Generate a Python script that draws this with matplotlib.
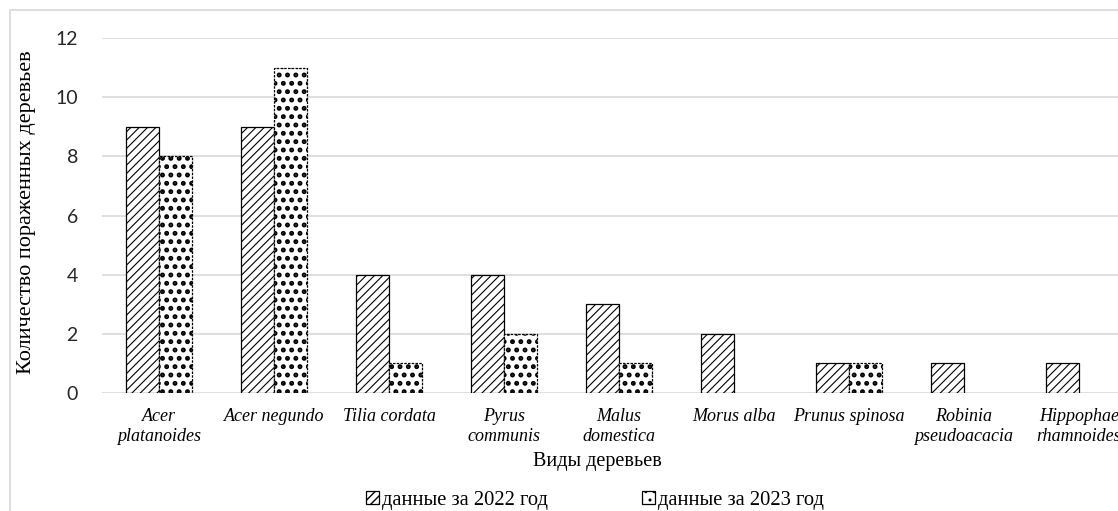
import matplotlib
matplotlib.use("Agg")
import matplotlib.pyplot as plt
import matplotlib.patches as mpatches
import numpy as np

categories = ["Acer\nplatanoides", "Acer negundo", "Tilia cordata", "Pyrus\ncommunis",
              "Malus\ndomestica", "Morus alba", "Prunus spinosa", "Robinia\npseudoacacia",
              "Hippophae\nrhamnoides"]
values_2022 = [9, 9, 4, 4, 3, 2, 1, 1, 1]
values_2023 = [8, 11, 1, 2, 1, 0, 1, 0, 0]
series_labels = ["данные за 2022 год", "данные за 2023 год"]
yticks = [0, 2, 4, 6, 8, 10, 12]

W, H = 1118, 511
fig = plt.figure(figsize=(W / 100, H / 100), dpi=100)
ax = fig.add_axes([101.5 / W, 1 - 393 / H, 1035 / W, 355 / H])


def set_hlw(artists, lw):
    for a in artists:
        if hasattr(a, "set_hatch_linewidth"):
            a.set_hatch_linewidth(lw)


x = np.arange(len(categories))
bw = 0.287
with plt.rc_context({'hatch.linewidth': 0.8}):
    b1 = ax.bar(x - bw / 2, values_2022, bw, facecolor='white', edgecolor='black',
                hatch='////', linewidth=0.9, zorder=3)
    h1 = mpatches.Patch(facecolor='white', edgecolor='black', hatch='////', linewidth=0.9)
set_hlw(list(b1) + [h1], 0.8)

vals23 = np.array(values_2023, dtype=float)
mask = vals23 > 0
with plt.rc_context({'hatch.linewidth': 2.3}):
    b2 = ax.bar(x[mask] + bw / 2, vals23[mask], bw, facecolor='white', edgecolor='black',
                hatch='..', linewidth=0.9, linestyle=(0, (2, 1)), zorder=3)
    h2 = mpatches.Patch(facecolor='white', edgecolor='black', hatch='..', linewidth=0.9)
set_hlw(list(b2) + [h2], 2.3)

ax.set_xlim(-0.5, len(categories) - 0.5)
ax.set_ylim(0, 12)
ax.set_yticks(yticks)
ax.grid(axis='y', color='#d9d9d9', linewidth=1.2, zorder=0)
ax.set_axisbelow(True)
for s in ax.spines.values():
    s.set_visible(False)
ax.tick_params(axis='both', length=0)
ax.tick_params(axis='y', pad=17)
ax.set_yticklabels([str(t) for t in yticks], fontfamily='Lato', fontsize=14, color='#262626')
ax.set_xticks(x)
ax.set_xticklabels(categories, fontfamily='Liberation Serif', fontstyle='italic',
                   fontsize=13, linespacing=1.2, color='black')
ax.tick_params(axis='x', pad=11)

fig.text(27 / W, 1 - 212 / H, "Количество пораженных деревьев", rotation=90,
         ha='center', va='center', fontfamily='Liberation Serif', fontsize=16)
fig.text(597 / W, 1 - 461 / H, "Виды деревьев", ha='center', va='center',
         fontfamily='Liberation Serif', fontsize=14.5)

fig.legend([h1, h2], series_labels, loc='center', bbox_to_anchor=(595 / W, 1 - 500 / H),
           ncol=2, frameon=False, prop={'family': 'Liberation Serif', 'size': 14.8},
           handlelength=0.6, handleheight=0.6, handletextpad=0.15, columnspacing=4.6,
           borderaxespad=0, borderpad=0)

fig.patches.append(mpatches.Rectangle((10 / W, -0.2), 2, 1 - 10 / H + 0.2,
                                      transform=fig.transFigure, fill=False,
                                      edgecolor='#d9d9d9', linewidth=1.2, zorder=0))

fig.savefig("out.png", dpi=100)
